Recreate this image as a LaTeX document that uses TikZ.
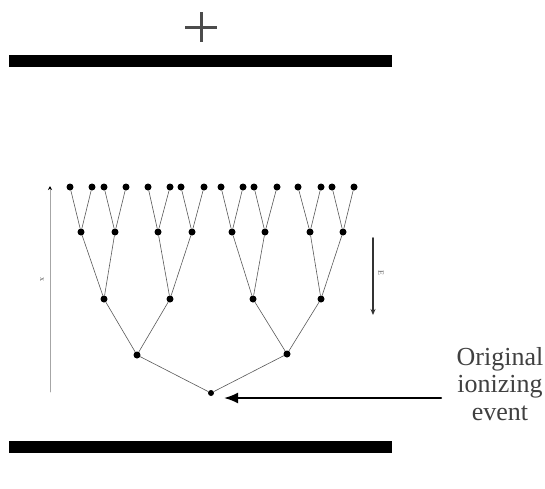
\documentclass[tikz,border=0pt]{standalone}
\usepackage{fontspec}
\setmainfont{Liberation Serif}
\usetikzlibrary{arrows.meta}
\tikzset{
  every picture/.style={line join=round, line cap=round, >=Stealth},
  dot/.style={circle, fill=black, inner sep=0pt, minimum size=7pt},
  branch/.style={line width=0.6pt, draw=black!65},
  plate/.style={fill=black},
  tiny/.style={font=\fontsize{8}{8}\selectfont, text=black!65, rotate=-90},
}
\begin{document}
\begin{tikzpicture}[x=1pt,y=-1pt]
\useasboundingbox (0,0) rectangle (545,488);
% plates
\fill[plate] (9,55) rectangle (392,67);
\fill[plate] (9,441) rectangle (392,453);
\draw[line width=3pt,draw=black!70,line cap=butt] (185,27)--(217,27) (201,12)--(201,42);
% avalanche
\node[dot,minimum size=6pt] (r) at (211,393) {};
\node[dot] (a1) at (137,355) {};
\node[dot] (a2) at (287,354) {};
\foreach \x [count=\i] in {104,170,253,321}
  \node[dot] (b\i) at (\x,299) {};
\foreach \x [count=\i] in {81,115,158,192,232,265,310,343}
  \node[dot] (c\i) at (\x,232) {};
\foreach \x [count=\i] in {70,92,104,126,148,170,181,204,221,243,254,277,298,321,332,354}
  \node[dot] (d\i) at (\x,187) {};
\draw[branch] (r)--(a1) (r)--(a2);
\draw[branch] (a1)--(b1) (a1)--(b2) (a2)--(b3) (a2)--(b4);
\foreach \i in {1,...,4}{
  \pgfmathtruncatemacro\ca{2*\i-1}
  \pgfmathtruncatemacro\cb{2*\i}
  \draw[branch] (b\i)--(c\ca) (b\i)--(c\cb);
}
\foreach \i in {1,...,8}{
  \pgfmathtruncatemacro\da{2*\i-1}
  \pgfmathtruncatemacro\db{2*\i}
  \draw[branch] (c\i)--(d\da) (c\i)--(d\db);
}
% drift distance
\coordinate (xbot) at (50,392);
\coordinate (xtop) at (50,186);
\draw[line width=0.6pt,draw=black!35,-{Stealth[length=4pt,width=4pt,black]}] (xbot)--(xtop);
\node[tiny] (xlab) at (42,279) {x};
% field
\coordinate (etop) at (373,238);
\coordinate (ebot) at (373,315);
\draw[line width=2pt,draw=black!80,-{Stealth[length=6pt,width=5pt]}] (etop)--(ebot);
\node[tiny] (elab) at (381,273) {E};
% label
\node[align=center, text=black!75, font=\fontsize{26}{27.5}\selectfont, inner sep=0pt] (orig) at (500,384) {Original\\ionizing\\event};
\coordinate (astart) at (441,398);
\coordinate (aend) at (224,398);
\draw[line width=2pt,-{Latex[length=14pt,width=11pt]}] (astart)--(aend);
\end{tikzpicture}
\end{document}
